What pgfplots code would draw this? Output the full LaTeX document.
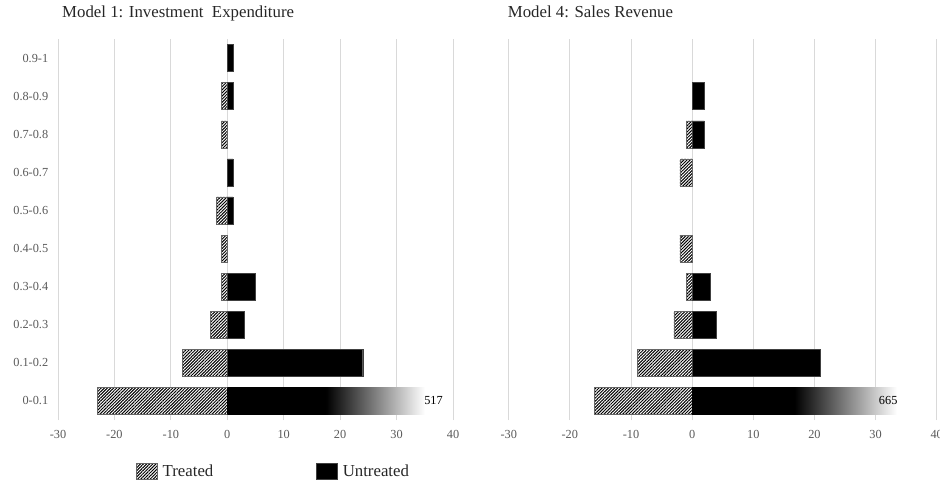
\documentclass[border=0pt]{standalone}
\usepackage{fontspec}
\setmainfont{Liberation Serif}
\usepackage{pgfplots}
\pgfplotsset{compat=1.18}
\usetikzlibrary{patterns.meta}

% black for the first half of the bar, then fading out to white
\pgfdeclarehorizontalshading{fadeout}{100bp}{color(0bp)=(black); color(25bp)=(black); color(50bp)=(black); color(75bp)=(white); color(100bp)=(white)}

\definecolor{ticktext}{HTML}{595959}
\definecolor{gridgray}{HTML}{D9D9D9}
\definecolor{titletext}{HTML}{262626}

\pgfplotsset{
  pyramid/.style={
    xbar, bar width=27pt, bar shift=0pt,
    scale only axis, height=381pt,
    xmin=-30, xmax=40, xtick={-30,-20,...,40},
    ymin=-0.5, ymax=9.5, ytick={0,...,9},
    axis line style={draw=none}, tick style={draw=none},
    xmajorgrids, grid style={draw=gridgray, line width=0.8pt},
    tick label style={font=\fontsize{12.3}{14}\selectfont, text=ticktext},
    xticklabel style={yshift=-7pt},
    /pgf/number format/assume math mode=true,
  },
  treated/.style={fill=white, draw=black!60, line width=0.4pt,
    postaction={pattern={Lines[angle=45, distance=2.2pt, line width=1pt]}}},
  untreated/.style={fill=black, draw=black!75, line width=0.4pt},
  faded/.style={shading=fadeout, draw=none},
}

\begin{document}
\begin{tikzpicture}
\path[use as bounding box] (0pt,0pt) rectangle (940pt,483pt);

% Model 1
\begin{axis}[pyramid,
    at={(58pt,63pt)}, anchor=south west, width=395pt,
    yticklabels={0-0.1,0.1-0.2,0.2-0.3,0.3-0.4,0.4-0.5,0.5-0.6,0.6-0.7,0.7-0.8,0.8-0.9,0.9-1},
    yticklabel style={xshift=-2pt},
    legend columns=2,
    legend style={at={(0.19,-0.134)}, anchor=west, draw=none, fill=none,
      font=\fontsize{16.8}{19}\selectfont, text=titletext,
      /tikz/every odd column/.append style={column sep=3pt},
      /tikz/every even column/.append style={column sep=101pt}},
    legend image code/.code={\draw[#1] (0pt,-8pt) rectangle (21pt,8pt);},
  ]
  \addplot[treated] coordinates {
    (-23,0) (-8,1) (-3,2) (-1,3) (-1,4) (-2,5) (-1,7) (-1,8)
  };
  \addlegendentry{Treated}
  \addplot[untreated] coordinates {
    (24,1) (3,2) (5,3) (1,5) (1,6) (1,8) (1,9)
  };
  \addlegendentry{Untreated}
  % 0-0.1 untreated is 517, drawn cut off
  \addplot[faded, forget plot, point meta=explicit symbolic,
    nodes near coords, every node near coord/.append style={
      font=\fontsize{12.3}{14}\selectfont, text=black, anchor=west, xshift=-4pt}]
    coordinates {(35,0) [517]};
\end{axis}

% Model 4
\begin{axis}[pyramid,
    at={(508.7pt,63pt)}, anchor=south west, width=428pt,
    yticklabels={},
  ]
  \addplot[treated] coordinates {
    (-16,0) (-9,1) (-3,2) (-1,3) (-2,4) (-2,6) (-1,7)
  };
  \addplot[untreated] coordinates {
    (21,1) (4,2) (3,3) (2,7) (2,8)
  };
  % 0-0.1 untreated is 665, drawn cut off
  \addplot[faded, point meta=explicit symbolic,
    nodes near coords, every node near coord/.append style={
      font=\fontsize{12.3}{14}\selectfont, text=black, anchor=east, xshift=4pt}]
    coordinates {(33.5,0) [665]};
\end{axis}

\node[anchor=base west, inner sep=0pt, font=\fontsize{16.8}{19}\selectfont, text=titletext]
  at (62pt,465.7pt) {Model 1: Investment\ \ Expenditure};
\node[anchor=base west, inner sep=0pt, font=\fontsize{16.8}{19}\selectfont, text=titletext]
  at (507.7pt,465.7pt) {Model 4: Sales Revenue};
\end{tikzpicture}
\end{document}
